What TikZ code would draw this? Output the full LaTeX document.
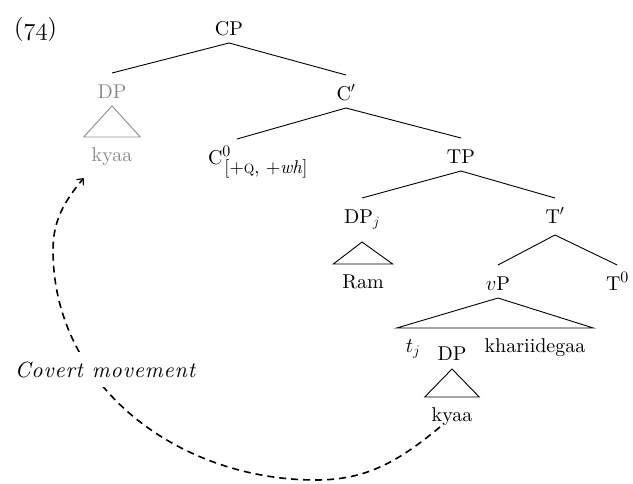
\documentclass[tikz,border=0pt]{standalone}
\usepackage{fontspec}
\setmainfont{lmroman10-regular.otf}[ItalicFont=lmroman10-italic.otf, BoldFont=lmroman10-bold.otf]
\usetikzlibrary{arrows.meta}
\definecolor{movedgray}{gray}{0.55}
\newcommand{\osnum}[1]{{\fontencoding{OML}\fontfamily{cmm}\fontseries{m}\fontshape{it}\selectfont #1}}
\newcommand{\headzero}{\raisebox{8pt}{\fontsize{16}{16}\selectfont 0}}
\begin{document}
\begin{tikzpicture}[x=1pt,y=-1pt,
  every node/.style={font=\fontsize{20}{24}\selectfont, inner sep=0pt, outer sep=0pt},
  cat/.style={anchor=base, text height=25pt, text depth=8pt},
  roof/.style={anchor=base, text height=24pt, text depth=6pt, inner xsep=9pt},
  branch/.style={line width=0.9pt},
  mv/.style={line width=1.6pt, dash pattern=on 7pt off 5pt,
    -{Straight Barb[length=5pt,width=9pt,line width=1.2pt]}}
]
\useasboundingbox (0,0) rectangle (633,483);

% example number
\node[anchor=base west, font=\fontsize{24}{28}\selectfont] (ex) at (14,35) {(\osnum{74})};

% categories
\node[cat] (CP) at (229,35) {CP};
\node[cat, text=movedgray] (DPg) at (112,98) {DP};
\node[cat] (Cb) at (346,100) {C$'$};
\node[roof, text=movedgray, inner xsep=8pt] (kyaaG) at (112,161) {kyaa};
\node[cat, anchor=base west] (C0) at (208,164)
  {C\rlap{\headzero}\hspace{2pt}\raisebox{-9pt}{\fontsize{18.5}{19}\selectfont[+{\fontsize{13.5}{14}\selectfont Q}, +\textit{wh}]}};
\node[cat] (TP) at (461,163) {TP};
\node[cat, anchor=base west, text depth=19pt] (DPj) at (344,223) {DP$_{j}$};
\node[cat, text depth=12pt] (Tb) at (555,223) {T$'$};
\node[roof] (Ram) at (363,288) {Ram};
\node[cat] (vP) at (498,290) {$v$P};
\node[cat, anchor=base west] (T0) at (606,290) {T\headzero};
\node[roof] (tj) at (413,352) {$t_{j}$};
\node[cat, text depth=9pt] (DPl) at (452,360) {DP};
\node[roof, inner xsep=8pt] (khar) at (535,352) {khariidegaa};
\node[roof, inner xsep=7pt] (kyaaL) at (452,421) {kyaa};

% branches
\draw[branch] (CP.south) -- (DPg.north);
\draw[branch] (CP.south) -- (Cb.north);
\draw[branch] (Cb.south) -- ([xshift=29pt]C0.north west);
\draw[branch] (Cb.south) -- (TP.north);
\draw[branch] (TP.south) -- (DPj.north);
\draw[branch] (TP.south) -- (Tb.north);
\draw[branch] (Tb.south) -- (vP.north);
\draw[branch] (Tb.south) -- (T0.north);

% roofs
\draw[branch, movedgray] (DPg.south) -- (kyaaG.north west) -- (kyaaG.north east) -- cycle;
\draw[branch] (DPj.south) -- (Ram.north west) -- (Ram.north east) -- cycle;
\draw[branch] (vP.south) -- (tj.north west) -- (khar.north east) -- cycle;
\draw[branch] (DPl.south) -- (kyaaL.north west) -- (kyaaL.north east) -- cycle;

% covert movement arrow
\coordinate (dip) at (316,480);
\coordinate (bend) at (53,250);
\draw[mv] ([xshift=-12pt]kyaaL.south) .. controls +(-40,33) and +(52,0) .. (dip)
  .. controls +(-137,0) and +(0,137) .. (bend)
  .. controls +(0,-30) and +(-19,23) .. ([yshift=-11pt]kyaaG.south west);
\node[font=\fontsize{22}{26}\selectfont\itshape\addfontfeatures{LetterSpace=4}, fill=white,
  anchor=base, text height=15pt, text depth=0pt, inner xsep=2pt, inner ysep=10pt]
  (cm) at (105,377) {Covert movement};
\end{tikzpicture}
\end{document}
